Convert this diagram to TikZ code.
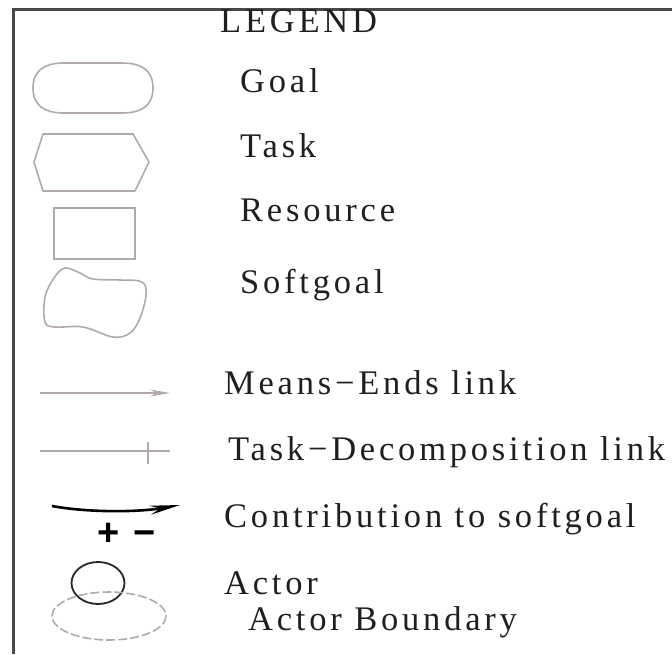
\documentclass[tikz,border=0pt]{standalone}
\usepackage{fontspec}
\setmainfont{Liberation Serif}
\newfontfamily\lgfont[LetterSpace=11]{Liberation Serif}
\newfontfamily\signfont{Liberation Sans}
\usetikzlibrary{arrows.meta,shapes.geometric}
\definecolor{framec}{RGB}{70,75,70}
\definecolor{shapec}{RGB}{178,168,178}
\definecolor{textc}{RGB}{30,32,30}
\tikzset{
  lbl/.style={anchor=base west, inner sep=0pt, text=textc, font=\lgfont\fontsize{34.5}{36}\selectfont},
  shapeline/.style={draw=shapec, line width=1.6pt},
  linkline/.style={draw=shapec, line width=1.8pt},
  signtxt/.style={anchor=base, inner sep=0pt, font=\signfont\bfseries\fontsize{38}{40}\selectfont},
}
\begin{document}
\begin{tikzpicture}[x=1pt,y=-1pt]
\useasboundingbox (0,0) rectangle (672,654);
% frame
\coordinate (fb) at (13,654);
\coordinate (fc) at (13,9);
\coordinate (fr) at (672,9);
\draw[framec, line width=3pt] (fb) -- (fc) -- (fr);
% texts
\node[lbl] (tlegend) at (220,32) {LEGEND};
\node[lbl] (tgoal) at (240,92) {Goal};
\node[lbl] (ttask) at (240,157) {Task};
\node[lbl] (tres) at (240,221) {Resource};
\node[lbl] (tsoft) at (240,293) {Softgoal};
\node[lbl] (tme) at (224,394) {Means−Ends link};
\node[lbl] (ttd) at (228,460) {Task−Decomposition link};
\node[lbl] (tcon) at (224,527) {Contribution to softgoal};
\node[lbl] (tact) at (224,594) {Actor};
\node[lbl] (tab) at (248,630) {Actor Boundary};
% goal
\draw[shapeline] (33,88) .. controls (33,70) and (45,63) .. (64,63) -- (122,63)
  .. controls (141,63) and (153,70) .. (153,88)
  .. controls (153,106) and (141,113) .. (122,113) -- (64,113)
  .. controls (45,113) and (33,106) .. (33,88) -- cycle;
% task hexagon
\draw[shapeline, line join=round] (43,134) -- (133,134) -- (149,162) -- (135,191) -- (43,191) -- (34,162) -- cycle;
% resource
\node[shapeline, minimum width=81pt, minimum height=51pt, inner sep=0pt] (res) at (94.5,233.5) {};
% softgoal
\draw[shapeline] plot[smooth cycle, tension=0.6] coordinates {
  (65,268) (80,273) (93,279) (120,280) (142,282) (146,295) (140,318) (130,333) (113,337) (83,327) (55,327) (45,322) (45,297) (54,278)};
% means-ends link
\coordinate (me1) at (40,393);
\coordinate (me2) at (170,393);
\draw[linkline, -{Stealth[length=20pt, width=7pt, open]}] (me1) -- (me2);
% task decomposition link
\coordinate (td1) at (40,451);
\coordinate (td2) at (170,451);
\coordinate (tk1) at (148,442);
\coordinate (tk2) at (148,464);
\draw[linkline] (td1) -- (td2);
\draw[linkline] (tk1) -- (tk2);
% contribution link
\coordinate (co1) at (52,506);
\coordinate (co2) at (180,505);
\draw[black, line width=2.6pt, -{Stealth[length=30pt, width=9pt]}] (co1) .. controls (90,513) and (140,512) .. (co2);
\node[signtxt] (plus) at (109,545) {+};
\node[signtxt] (minus) at (145,545) {−};
% actor
\node[draw=black!85, line width=1.8pt, ellipse, minimum width=53pt, minimum height=42pt, inner sep=0pt] (actor) at (98,583) {};
\draw[shapec, line width=1.6pt, dash pattern=on 9pt off 3pt] (109,616) ellipse [x radius=57, y radius=24];
\end{tikzpicture}
\end{document}
